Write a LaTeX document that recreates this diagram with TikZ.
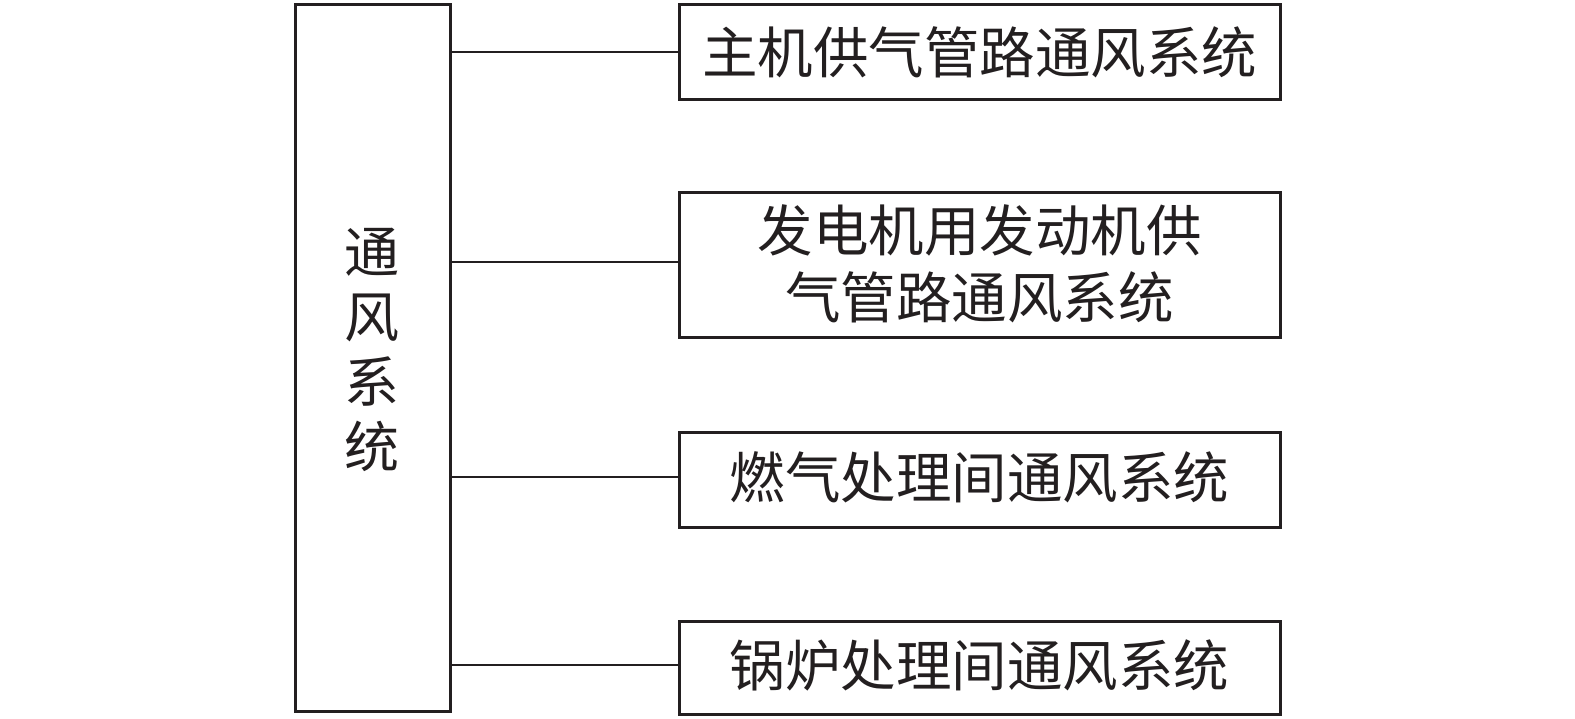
\documentclass[tikz,border=0pt]{standalone}
\usepackage{fontspec}
\newfontfamily\cjk{Noto Sans CJK SC}
\definecolor{ink}{HTML}{231F20}
\begin{document}
\begin{tikzpicture}[x=1pt,y=-1pt,
  box/.style={draw=ink,line width=3pt,inner sep=0pt},
  lbl/.style={font=\cjk\fontsize{55.5}{67}\selectfont,text=ink,align=center,inner sep=0pt},
  conn/.style={draw=ink,line width=2pt}]
\useasboundingbox (0,0) rectangle (1575,719);
\node[box,minimum width=155pt,minimum height=706pt] (main) at (372.5,358) {};
\node[lbl,font=\cjk\fontsize{55}{65}\selectfont] (mt) at (372,350) {通\\风\\系\\统};
\node[box,minimum width=601pt,minimum height=95pt] (b1) at (979.5,52.5) {};
\node[lbl] (t1) at (979.5,52) {主机供气管路通风系统};
\node[box,minimum width=601pt,minimum height=145pt] (b2) at (979.5,265.5) {};
\node[lbl] (t2) at (979.5,264) {发电机用发动机供\\气管路通风系统};
\node[box,minimum width=601pt,minimum height=95pt] (b3) at (979.5,479.5) {};
\node[lbl] (t3) at (979.5,477) {燃气处理间通风系统};
\node[box,minimum width=601pt,minimum height=93pt] (b4) at (979.5,667.5) {};
\node[lbl] (t4) at (979.5,665) {锅炉处理间通风系统};
\coordinate (c1) at (main.east |- 0,52);
\coordinate (c2) at (main.east |- 0,262);
\coordinate (c3) at (main.east |- 0,477);
\coordinate (c4) at (main.east |- 0,665);
\draw[conn] (c1) -- (b1.west |- c1);
\draw[conn] (c2) -- (b2.west |- c2);
\draw[conn] (c3) -- (b3.west |- c3);
\draw[conn] (c4) -- (b4.west |- c4);
\end{tikzpicture}
\end{document}
